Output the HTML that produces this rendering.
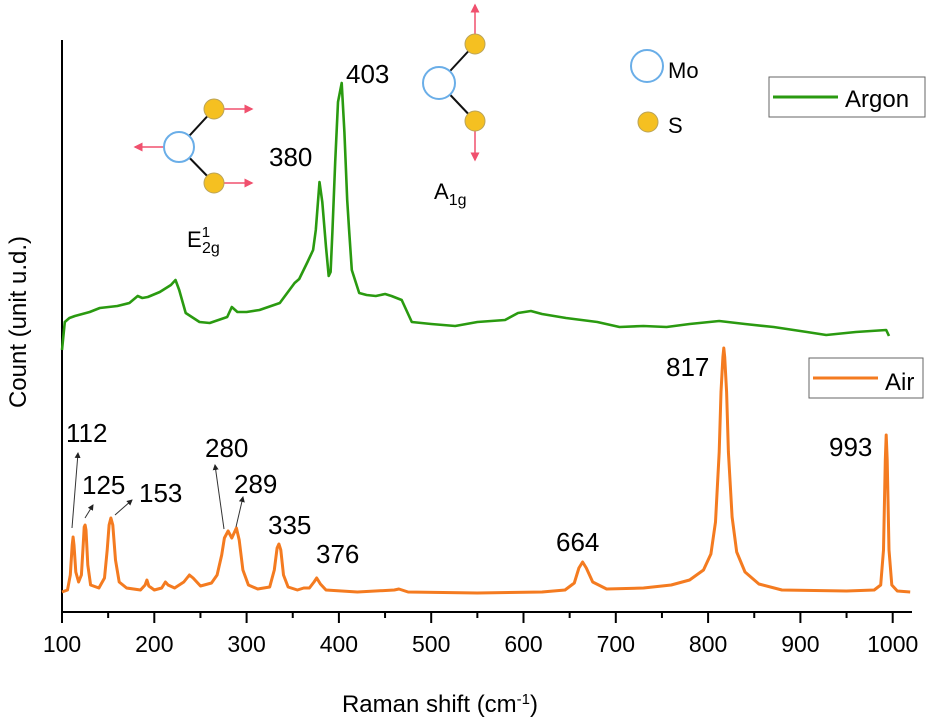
<!DOCTYPE html>
<html><head><meta charset="utf-8"><style>
body{margin:0;background:#fff;}
svg{display:block;font-family:"Liberation Sans",Arial,sans-serif;}
</style></head><body>
<svg id="chart" width="931" height="726" viewBox="0 0 931 726">
<g id="axes"></g>
<g id="series"></g>
<g id="labels"></g>
<g>
 <rect x="769" y="77" width="156" height="40" fill="#fff" stroke="#666" stroke-width="1"/>
 <line x1="773" y1="97" x2="838" y2="97" stroke="#2a9a10" stroke-width="3"/>
 <text x="845" y="107" font-size="24">Argon</text>
</g>
<g>
 <rect x="809" y="358" width="114" height="40" fill="#fff" stroke="#666" stroke-width="1"/>
 <line x1="813" y1="378" x2="878" y2="378" stroke="#f47b20" stroke-width="3"/>
 <text x="885" y="390" font-size="24">Air</text>
</g>
<defs>
 <marker id="ra" markerWidth="6" markerHeight="6" refX="5" refY="3" orient="auto"><path d="M0,0L6,3L0,6z" fill="#f0506e"/></marker>
 <marker id="ka" markerWidth="6" markerHeight="6" refX="5" refY="3" orient="auto"><path d="M0,0L6,3L0,6z" fill="#222"/></marker>
</defs>
<g>
 <line x1="179" y1="147" x2="214" y2="109" stroke="#111" stroke-width="2"/>
 <line x1="179" y1="147" x2="214" y2="183" stroke="#111" stroke-width="2"/>
 <line x1="224" y1="109" x2="252" y2="109" stroke="#f0506e" stroke-width="1.5" marker-end="url(#ra)"/>
 <line x1="224" y1="183" x2="252" y2="183" stroke="#f0506e" stroke-width="1.5" marker-end="url(#ra)"/>
 <line x1="164" y1="147" x2="135" y2="147" stroke="#f0506e" stroke-width="1.5" marker-end="url(#ra)"/>
 <circle cx="179" cy="147" r="15" fill="#fff" stroke="#6aaee8" stroke-width="2"/>
 <circle cx="214" cy="109" r="10" fill="#f5c021" stroke="#b9a35a" stroke-width="1"/>
 <circle cx="214" cy="183" r="10" fill="#f5c021" stroke="#b9a35a" stroke-width="1"/>
 <text x="187" y="247" font-size="22">E<tspan dy="-10" font-size="15">1</tspan><tspan dy="16" dx="-8" font-size="16">2g</tspan></text>
</g>
<g>
 <line x1="439" y1="83" x2="475" y2="44" stroke="#111" stroke-width="2"/>
 <line x1="439" y1="83" x2="475" y2="121" stroke="#111" stroke-width="2"/>
 <line x1="475" y1="34" x2="475" y2="5" stroke="#f0506e" stroke-width="1.5" marker-end="url(#ra)"/>
 <line x1="475" y1="131" x2="475" y2="160" stroke="#f0506e" stroke-width="1.5" marker-end="url(#ra)"/>
 <circle cx="439" cy="83" r="16" fill="#fff" stroke="#6aaee8" stroke-width="2"/>
 <circle cx="475" cy="44" r="10" fill="#f5c021" stroke="#b9a35a" stroke-width="1"/>
 <circle cx="475" cy="121" r="10" fill="#f5c021" stroke="#b9a35a" stroke-width="1"/>
 <text x="434" y="199" font-size="22">A<tspan dy="6" font-size="16">1g</tspan></text>
</g>
<g>
 <circle cx="647" cy="66" r="16" fill="#fff" stroke="#6aaee8" stroke-width="2"/>
 <text x="668" y="78" font-size="22">Mo</text>
 <circle cx="648" cy="122" r="10" fill="#f5c021" stroke="#b9a35a" stroke-width="1"/>
 <text x="668" y="133" font-size="22">S</text>
</g>
</svg>
<script>
const xTicks=[100,200,300,400,500,600,700,800,900,1000];
const xMinor=[150,250,350,450,550,650,750,850,950];
const argonX=[100,103,108,114,130,141,160,173,182,187,193,206,218,223,227,234,249,260,279,284,290,300,314,336,352,357,366,372,375,379,382,386,389,391,393,396,399,403,406,409,411,414,422,430,440,450,457,468,479,500,526,550,580,594,608,620,646,680,704,730,755,780,812,840,871,907,928,960,993,996];
const argonY=[262,290,294,296,300,304,306,309,316,314,315,320,327,332,322,299,290,289,295,305,300,300,302,309,329,333,350,362,382,430,410,365,336,340,380,450,510,529,480,412,382,342,319,317,316,318,316,312,290,288,286,290,292,299,301,298,294,290,285,286,285,288,291,288,285,280,277,280,282,276];
const airX=[100,106,109,111,112,113,115,118,121,123,124,125,126,128,131,140,146,149,151,153,155,158,162,170,185,190,192,194,200,208,212,215,222,232,238,242,250,262,268,273,276,280,284,289,292,296,302,312,325,330,333,335,337,340,345,355,362,368,373,376,380,386,420,460,465,475,550,620,645,655,660,664,668,675,690,730,760,780,795,803,808,812,814,816,817,818,820,822,826,831,840,855,880,950,980,987,990,992,993,994,996,999,1005,1019];
const airY=[20,22,37,67,75,67,40,30,37,67,85,87,82,47,27,24,34,62,87,94,87,52,30,24,22,27,32,26,22,24,30,27,24,30,37,34,26,29,37,57,74,81,74,84,72,42,27,23,25,42,64,68,62,37,25,22,24,24,30,34,28,22,20,22,23,20,19,20,22,29,44,50,44,30,23,24,27,32,42,58,90,160,220,255,264,255,220,160,95,60,40,28,22,21,22,27,62,152,177,152,62,27,21,20];
const peakLabels=["112","125","153","280","289","335","376","664","817","993","380","403"];
const NS="http://www.w3.org/2000/svg";
function xS(v){return 62+(v-100)*0.923;}
function yS(v){return 612-v;}
const axes=document.getElementById('axes');
function mk(tag,at,parent){const e=document.createElementNS(NS,tag);for(const k in at)e.setAttribute(k,at[k]);parent.appendChild(e);return e;}
let l=mk('line',{x1:62,y1:40,x2:62,y2:612,stroke:'#000','stroke-width':2},axes);


l=mk('line',{x1:61,y1:612,x2:912,y2:612,stroke:'#000','stroke-width':2},axes);


xTicks.forEach(t=>{
 const tk=mk('line',{x1:xS(t),y1:612,x2:xS(t),y2:623,stroke:'#000','stroke-width':2},axes);
 
 
 const tx=mk('text',{x:xS(t),y:652,'text-anchor':'middle','font-size':23},axes);
 tx.textContent=t;
 
 
});
xMinor.forEach(t=>{
 const tk=mk('line',{x1:xS(t),y1:612,x2:xS(t),y2:618,stroke:'#000','stroke-width':2},axes);
 
 
});
let xt=mk('text',{x:440,y:712,'text-anchor':'middle','font-size':24},axes);
xt.innerHTML='Raman shift (cm<tspan dy="-8" font-size="15">-1</tspan><tspan dy="8">)</tspan>';


let yt=mk('text',{x:0,y:0,'text-anchor':'middle','font-size':24,transform:'translate(26,322) rotate(-90)'},axes);
yt.textContent='Count (unit u.d.)';


const ser=document.getElementById('series');
function path(xs,ys){return xs.map((x,i)=>(i?'L':'M')+xS(x).toFixed(1)+','+yS(ys[i]).toFixed(1)).join('');}
let p=mk('path',{d:path(argonX,argonY),fill:'none',stroke:'#2a9a10','stroke-width':2.6,'stroke-linejoin':'round'},ser);


p=mk('path',{d:path(airX,airY),fill:'none',stroke:'#f47b20','stroke-width':3,'stroke-linejoin':'round'},ser);


const lab=document.getElementById('labels');
const lpos=[[66,442],[82,494],[139,502],[205,457],[234,493],[268,534],[316,563],[556,551],[666,376],[829,456],[269,166],[346,83]];
peakLabels.forEach((s,i)=>{
 const t=mk('text',{x:lpos[i][0],y:lpos[i][1],'font-size':26},lab);
 t.textContent=s;
 
 
});
[[72,528,78,453],[85,518,93,505],[115,515,132,500],[224,529,215,465],[236,527,243,497]].forEach(a=>{
 const ar=mk('line',{x1:a[0],y1:a[1],x2:a[2],y2:a[3],stroke:'#333','stroke-width':1,'marker-end':'url(#ka)'},lab);
 
 
});
</script>
</body></html>
